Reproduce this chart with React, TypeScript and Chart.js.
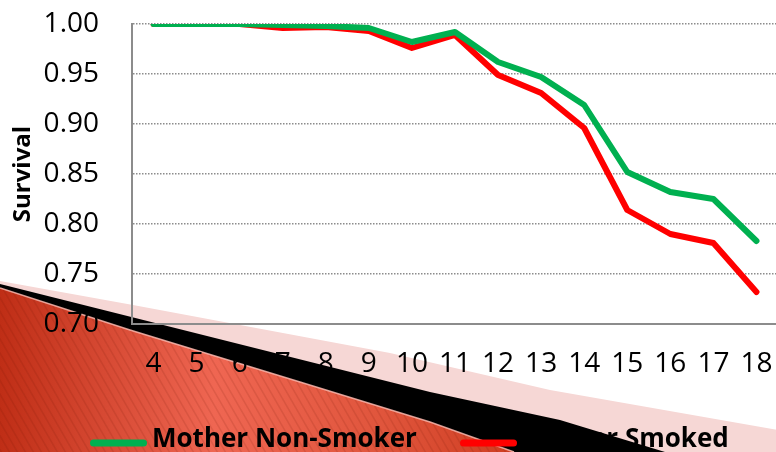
import React, { useEffect, useRef } from "react";
import { Chart, registerables } from "chart.js";

Chart.register(...registerables);

// ---- data ----
const ages = ["4", "5", "6", "7", "8", "9", "10", "11", "12", "13", "14", "15", "16", "17", "18"];
const nonSmoker = [1.0, 1.0, 1.0, 0.999, 0.998, 0.996, 0.982, 0.992, 0.962, 0.947, 0.919, 0.852, 0.832, 0.825, 0.783];
const smoked = [1.0, 1.0, 1.0, 0.996, 0.997, 0.993, 0.976, 0.989, 0.949, 0.931, 0.896, 0.814, 0.79, 0.781, 0.732];
const seriesLabels = ["Mother Non-Smoker", "Mother Smoked"];
const seriesColors = ["#00B050", "#FF0000"];
const yMin = 0.7;
const yMax = 1.0;
const yStep = 0.05;
const yTitle = "Survival";
const xTitle = "Age";

const FONT = "'Open Sans', 'DejaVu Sans', sans-serif";

// slide decoration drawn beneath the chart
const decorationPlugin = {
  id: "slideDecoration",
  beforeDraw(chart: any) {
    const ctx: CanvasRenderingContext2D = chart.ctx;
    const W = chart.width;
    const H = chart.height;
    ctx.save();
    // pale pink band
    ctx.beginPath();
    ctx.moveTo(0, 281);
    ctx.lineTo(133, 305);
    ctx.lineTo(390, 353);
    ctx.lineTo(550, 390);
    ctx.lineTo(W, 430);
    ctx.lineTo(W, H);
    ctx.lineTo(0, H);
    ctx.closePath();
    ctx.fillStyle = "#F6D7D5";
    ctx.fill();
    // black band
    ctx.beginPath();
    ctx.moveTo(0, 284);
    ctx.lineTo(430, 392);
    ctx.lineTo(560, 420);
    ctx.lineTo(665, 452);
    ctx.lineTo(0, H);
    ctx.closePath();
    ctx.fillStyle = "#000000";
    ctx.fill();
    // red textured area
    const redEdge: [number, number][] = [
      [0, 288],
      [130, 330],
      [300, 382],
      [430, 422],
      [514, 452],
    ];
    ctx.beginPath();
    redEdge.forEach(([x, y], i) => (i ? ctx.lineTo(x, y) : ctx.moveTo(x, y)));
    ctx.lineTo(0, H);
    ctx.closePath();
    const g = ctx.createLinearGradient(0, 0, 510, 0);
    g.addColorStop(0, "#BF2E16");
    g.addColorStop(0.42, "#EF6652");
    g.addColorStop(0.75, "#E0553C");
    g.addColorStop(1, "#CF3E22");
    ctx.fillStyle = g;
    ctx.fill();
    ctx.save();
    ctx.clip();
    ctx.strokeStyle = "rgba(110,20,5,0.13)";
    ctx.lineWidth = 1.5;
    for (let x = -400; x < 620; x += 8) {
      ctx.beginPath();
      ctx.moveTo(x, 270);
      ctx.lineTo(x + 110, 460);
      ctx.stroke();
    }
    ctx.restore();
    // light edge on red top
    ctx.beginPath();
    redEdge.forEach(([x, y], i) => (i ? ctx.lineTo(x, y) : ctx.moveTo(x, y)));
    ctx.strokeStyle = "rgba(250,185,175,0.85)";
    ctx.lineWidth = 1.5;
    ctx.stroke();
    ctx.restore();
  },
};

// legend drawn with line samples at the bottom
const legendPlugin = {
  id: "bottomLegend",
  afterDraw(chart: any) {
    const ctx: CanvasRenderingContext2D = chart.ctx;
    const starts = [90, 460];
    const lineLen = 57;
    ctx.save();
    chart.data.datasets.forEach((ds: any, i: number) => {
      const x = starts[i];
      ctx.beginPath();
      ctx.lineCap = "round";
      ctx.lineWidth = 7;
      ctx.strokeStyle = ds.borderColor;
      ctx.moveTo(x + 3.5, 443);
      ctx.lineTo(x + lineLen - 3.5, 443);
      ctx.stroke();
      ctx.font = `bold 26px ${FONT}`;
      ctx.fillStyle = "#000";
      ctx.textBaseline = "alphabetic";
      ctx.textAlign = "left";
      ctx.fillText(ds.label, x + lineLen + 5, 447);
    });
    ctx.restore();
  },
};

export default function App() {
  const ref = useRef<HTMLCanvasElement | null>(null);
  useEffect(() => {
    if (!ref.current) return;
    const chart = new Chart(ref.current, {
      type: "line",
      data: {
        labels: ages,
        datasets: [
          {
            label: seriesLabels[0],
            data: nonSmoker,
            borderColor: seriesColors[0],
            backgroundColor: seriesColors[0],
          },
          {
            label: seriesLabels[1],
            data: smoked,
            borderColor: seriesColors[1],
            backgroundColor: seriesColors[1],
          },
        ],
      },
      options: {
        animation: false,
        responsive: false,
        maintainAspectRatio: false,
        layout: { padding: { top: 24, left: 0, right: 0, bottom: 0 } },
        elements: {
          point: { radius: 0, hoverRadius: 0 },
          line: { borderWidth: 6, tension: 0, borderCapStyle: "round", borderJoinStyle: "round" },
        },
        plugins: { legend: { display: false }, tooltip: { enabled: false } },
        scales: {
          x: {
            type: "category",
            offset: true,
            grid: {
              display: true,
              drawOnChartArea: false,
              drawTicks: true,
              tickLength: 23,
              color: "rgba(0,0,0,0)",
              tickColor: "rgba(0,0,0,0)",
            },
            border: { display: true, color: "#8C8C8C", width: 2 },
            ticks: {
              color: "#000",
              font: { family: FONT, size: 28 },
              padding: 0,
              maxRotation: 0,
              autoSkip: false,
            },
            title: {
              display: true,
              text: xTitle,
              color: "#000",
              font: { family: FONT, size: 20, weight: "bold" },
              padding: { top: 0, bottom: 28 },
            },
            afterFit: (s: any) => {
              s.height = 128;
            },
          },
          y: {
            min: yMin,
            max: yMax,
            ticks: {
              stepSize: yStep,
              color: "#000",
              font: { family: FONT, size: 28 },
              padding: 0,
              callback: (v: any) => Number(v).toFixed(2),
            },
            grid: {
              color: "#8C8C8C",
              lineWidth: 1.5,
              drawTicks: true,
              tickLength: 33,
              tickColor: "rgba(0,0,0,0)",
            },
            border: { display: true, color: "#8C8C8C", width: 2, dash: [1.5, 1.5] },
            title: {
              display: true,
              text: yTitle,
              color: "#000",
              font: { family: FONT, size: 24, weight: "bold" },
              padding: { top: 9, bottom: 0 },
            },
            afterFit: (s: any) => {
              s.width = 132;
            },
          },
        },
      },
      plugins: [decorationPlugin, legendPlugin],
    });
    return () => chart.destroy();
  }, []);

  return (
    <div style={{ position: "absolute", left: 0, top: 0, width: 776, height: 452, overflow: "hidden", background: "#fff" }}>
      <canvas ref={ref} width={778} height={452} style={{ display: "block" }} />
    </div>
  );
}
